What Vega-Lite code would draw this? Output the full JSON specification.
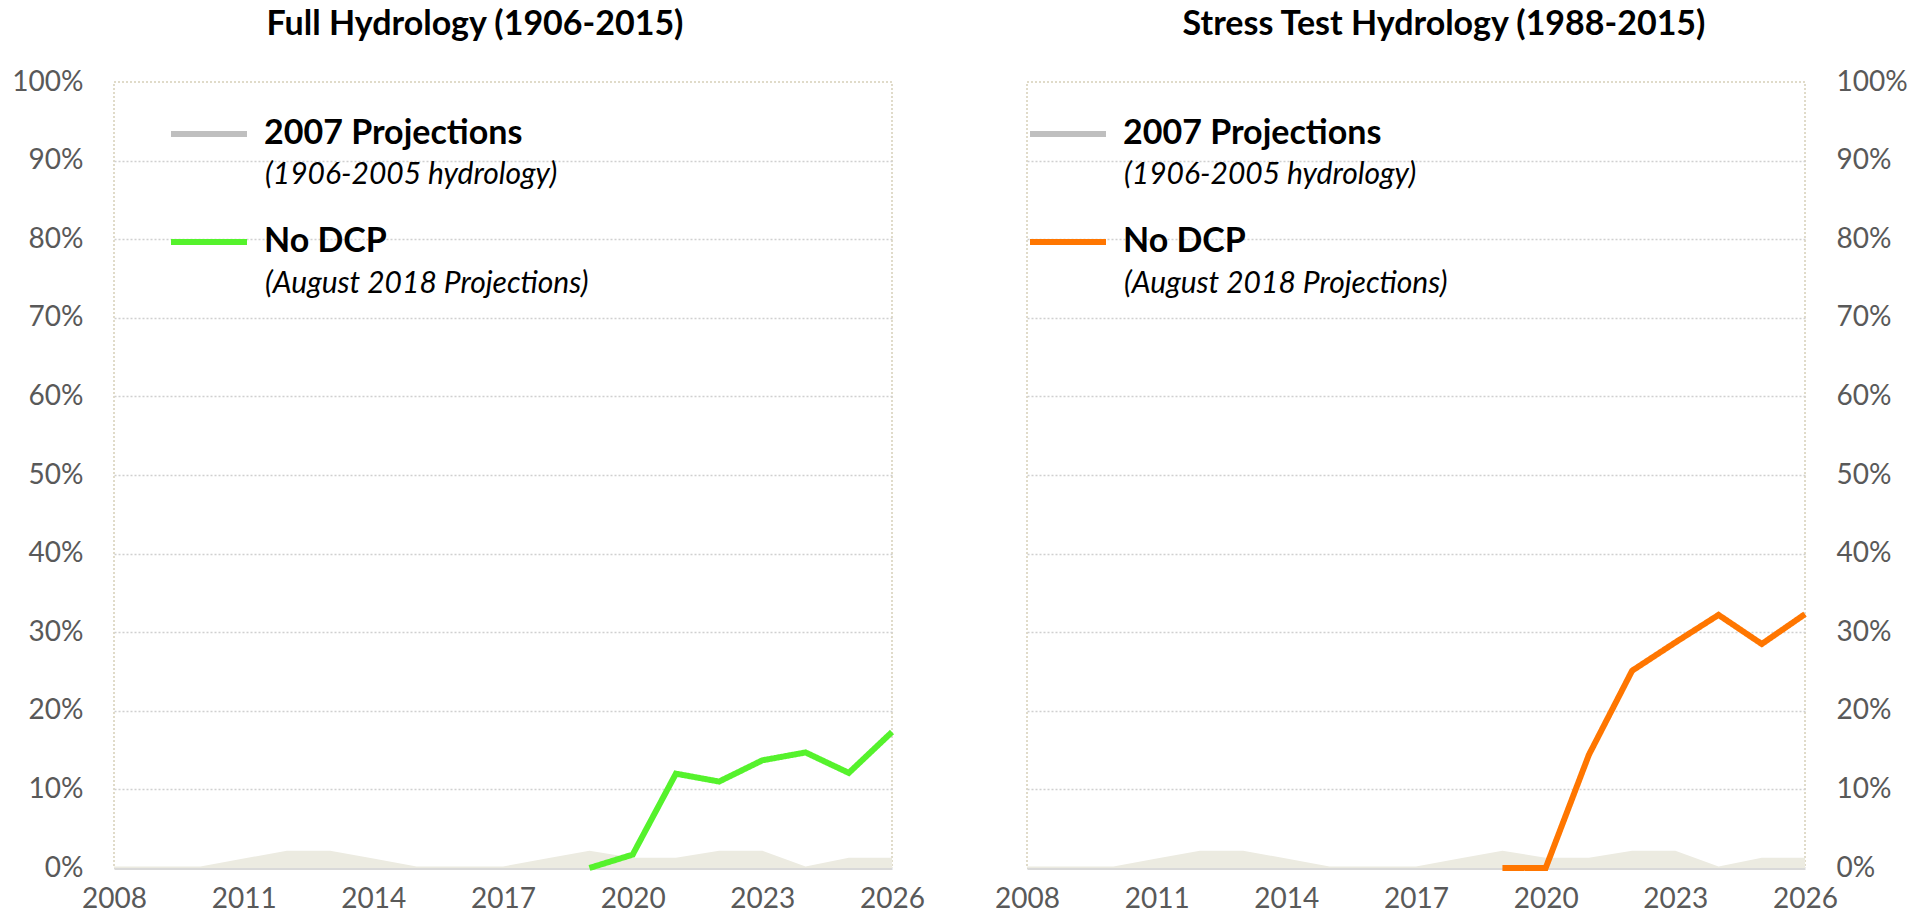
{
  "$schema": "https://vega.github.io/schema/vega-lite/v6.json",
  "padding": {"top": 7, "left": 0, "right": 0, "bottom": 0},
  "background": "white",
  "config": {
    "font": "Lato",
    "view": {"stroke": "#d6d0b8", "strokeDash": [2, 2], "strokeWidth": 1.5},
    "title": {"font": "Lato", "fontSize": 34, "fontWeight": "bold", "color": "black", "anchor": "middle", "frame": "group", "offset": 26},
    "axis": {"labelFont": "Lato", "labelFontSize": 28, "labelColor": "#595959", "ticks": false, "title": null}
  },
  "datasets": {
    "hist": [
      {"year": 2008, "value": 0.002}, {"year": 2009, "value": 0.002}, {"year": 2010, "value": 0.002},
      {"year": 2011, "value": 0.012}, {"year": 2012, "value": 0.022}, {"year": 2013, "value": 0.022},
      {"year": 2014, "value": 0.012}, {"year": 2015, "value": 0.002}, {"year": 2016, "value": 0.002},
      {"year": 2017, "value": 0.002}, {"year": 2018, "value": 0.012}, {"year": 2019, "value": 0.022},
      {"year": 2020, "value": 0.013}, {"year": 2021, "value": 0.013}, {"year": 2022, "value": 0.022},
      {"year": 2023, "value": 0.022}, {"year": 2024, "value": 0.002}, {"year": 2025, "value": 0.013},
      {"year": 2026, "value": 0.013}
    ],
    "full": [
      {"year": 2019, "value": 0.0, "series": "No DCP", "note": "(August 2018 Projections)"},
      {"year": 2020, "value": 0.017, "series": "No DCP", "note": "(August 2018 Projections)"},
      {"year": 2021, "value": 0.12, "series": "No DCP", "note": "(August 2018 Projections)"},
      {"year": 2022, "value": 0.11, "series": "No DCP", "note": "(August 2018 Projections)"},
      {"year": 2023, "value": 0.137, "series": "No DCP", "note": "(August 2018 Projections)"},
      {"year": 2024, "value": 0.147, "series": "No DCP", "note": "(August 2018 Projections)"},
      {"year": 2025, "value": 0.121, "series": "No DCP", "note": "(August 2018 Projections)"},
      {"year": 2026, "value": 0.173, "series": "No DCP", "note": "(August 2018 Projections)"}
    ],
    "stress": [
      {"year": 2019, "value": 0.0, "series": "No DCP", "note": "(August 2018 Projections)"},
      {"year": 2020, "value": 0.0, "series": "No DCP", "note": "(August 2018 Projections)"},
      {"year": 2021, "value": 0.144, "series": "No DCP", "note": "(August 2018 Projections)"},
      {"year": 2022, "value": 0.251, "series": "No DCP", "note": "(August 2018 Projections)"},
      {"year": 2023, "value": 0.287, "series": "No DCP", "note": "(August 2018 Projections)"},
      {"year": 2024, "value": 0.322, "series": "No DCP", "note": "(August 2018 Projections)"},
      {"year": 2025, "value": 0.285, "series": "No DCP", "note": "(August 2018 Projections)"},
      {"year": 2026, "value": 0.323, "series": "No DCP", "note": "(August 2018 Projections)"}
    ]
  },
  "hconcat": [
    {
      "title": {"text": "Full Hydrology (1906-2015)", "dx": -28},
      "width": 778,
      "height": 786,
      "layer": [
        {
          "data": {"name": "hist"},
          "mark": {"type": "area", "color": "#ecebe1"},
          "encoding": {
            "x": {"field": "year", "type": "quantitative", "scale": {"domain": [2008, 2026], "nice": false, "zero": false},
              "axis": {"values": [2008, 2011, 2014, 2017, 2020, 2023, 2026], "format": "d", "labelFlush": false, "labelPadding": 17, "domainColor": "#d9d9d9", "domainWidth": 3, "grid": false}},
            "y": {"field": "value", "type": "quantitative", "scale": {"domain": [0, 1]},
              "axis": {"values": [0, 0.1, 0.2, 0.3, 0.4, 0.5, 0.6, 0.7, 0.8, 0.9, 1], "format": ".0%", "grid": true,
                "gridColor": {"condition": {"test": "datum.value >= 1 || datum.value <= 0", "value": "transparent"}, "value": "#d0d0d0"},
                "gridDash": [2, 2], "gridWidth": 1.5, "domain": false, "labelPadding": 31, "minExtent": 113, "maxExtent": 113}}
          }
        },
        {
          "data": {"name": "full"},
          "mark": {"type": "line", "strokeWidth": 6},
          "encoding": {
            "x": {"field": "year", "type": "quantitative"},
            "y": {"field": "value", "type": "quantitative"},
            "strokeDash": {"field": "note", "type": "nominal",
              "scale": {"domain": ["(1906-2005 hydrology)", "(August 2018 Projections)"], "range": [[1, 0], [1, 0]]},
              "legend": {"orient": "none", "legendX": 59, "legendY": 73, "title": null, "symbolType": "stroke", "symbolSize": 5776, "symbolOpacity": 0,
                "clipHeight": 40, "rowPadding": 69, "labelOffset": 14, "labelFont": "Lato", "labelFontSize": 30, "labelFontStyle": "italic", "labelFontWeight": "normal", "labelColor": "black", "labelLimit": 700}},
            "color": {"field": "series", "type": "nominal",
              "scale": {"domain": ["2007 Projections", "No DCP"], "range": ["#bfbfbf", "#55f22c"]},
              "legend": {"orient": "none", "legendX": 54, "legendY": 32, "title": null, "symbolType": "stroke", "symbolSize": 5776, "symbolStrokeWidth": 6,
                "clipHeight": 40, "rowPadding": 68, "labelOffset": 14, "labelFont": "Lato", "labelFontSize": 34, "labelFontWeight": "bold", "labelColor": "black", "labelLimit": 700}
            }
          }
        }
      ]
    },
    {
      "title": {"text": "Stress Test Hydrology (1988-2015)", "dx": 28},
      "width": 778,
      "height": 786,
      "layer": [
        {
          "data": {"name": "hist"},
          "mark": {"type": "area", "color": "#ecebe1"},
          "encoding": {
            "x": {"field": "year", "type": "quantitative", "scale": {"domain": [2008, 2026], "nice": false, "zero": false},
              "axis": {"values": [2008, 2011, 2014, 2017, 2020, 2023, 2026], "format": "d", "labelFlush": false, "labelPadding": 17, "domainColor": "#d9d9d9", "domainWidth": 3, "grid": false}},
            "y": {"field": "value", "type": "quantitative", "scale": {"domain": [0, 1]},
              "axis": {"orient": "right", "values": [0, 0.1, 0.2, 0.3, 0.4, 0.5, 0.6, 0.7, 0.8, 0.9, 1], "format": ".0%", "grid": true,
                "gridColor": {"condition": {"test": "datum.value >= 1 || datum.value <= 0", "value": "transparent"}, "value": "#d0d0d0"},
                "gridDash": [2, 2], "gridWidth": 1.5, "domain": false, "labelPadding": 31, "minExtent": 115, "maxExtent": 115}}
          }
        },
        {
          "data": {"name": "stress"},
          "mark": {"type": "line", "strokeWidth": 6},
          "encoding": {
            "x": {"field": "year", "type": "quantitative"},
            "y": {"field": "value", "type": "quantitative"},
            "strokeDash": {"field": "note", "type": "nominal",
              "scale": {"domain": ["(1906-2005 hydrology)", "(August 2018 Projections)"], "range": [[1, 0], [1, 0]]},
              "legend": {"orient": "none", "legendX": 5, "legendY": 73, "title": null, "symbolType": "stroke", "symbolSize": 5776, "symbolOpacity": 0,
                "clipHeight": 40, "rowPadding": 69, "labelOffset": 14, "labelFont": "Lato", "labelFontSize": 30, "labelFontStyle": "italic", "labelFontWeight": "normal", "labelColor": "black", "labelLimit": 700}},
            "color": {"field": "series", "type": "nominal",
              "scale": {"domain": ["2007 Projections", "No DCP"], "range": ["#bfbfbf", "#ff7600"]},
              "legend": {"orient": "none", "legendX": 0, "legendY": 32, "title": null, "symbolType": "stroke", "symbolSize": 5776, "symbolStrokeWidth": 6,
                "clipHeight": 40, "rowPadding": 68, "labelOffset": 14, "labelFont": "Lato", "labelFontSize": 34, "labelFontWeight": "bold", "labelColor": "black", "labelLimit": 700}
            }
          }
        }
      ]
    }
  ],
  "spacing": 135,
  "bounds": "flush",
  "resolve": {"scale": {"color": "independent", "strokeDash": "independent", "x": "independent", "y": "independent"}, "legend": {"color": "independent", "strokeDash": "independent"}}
}
